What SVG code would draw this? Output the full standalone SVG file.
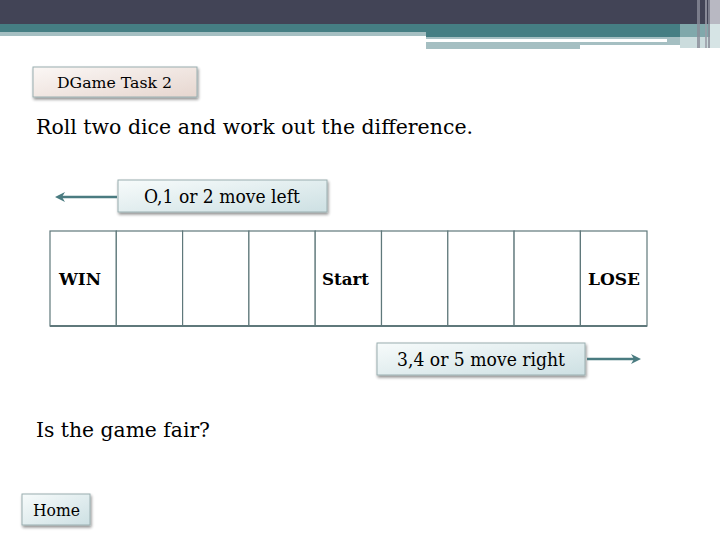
<svg xmlns="http://www.w3.org/2000/svg" width="720" height="540" viewBox="0 0 720 540">
<defs>
<linearGradient id="gPink" x1="0" y1="0" x2="1" y2="1">
<stop offset="0" stop-color="#fbf7f5"/><stop offset="1" stop-color="#e6d6cf"/>
</linearGradient>
<linearGradient id="gTeal" x1="0" y1="0" x2="1" y2="1">
<stop offset="0" stop-color="#f7fbfb"/><stop offset="1" stop-color="#cde0e3"/>
</linearGradient>
<filter id="sh" x="-10%" y="-20%" width="120%" height="150%">
<feGaussianBlur in="SourceAlpha" stdDeviation="1.5"/>
<feOffset dx="1" dy="2" result="b"/>
<feComponentTransfer><feFuncA type="linear" slope="0.45"/></feComponentTransfer>
<feMerge><feMergeNode/><feMergeNode in="SourceGraphic"/></feMerge>
</filter>
<marker id="ah" viewBox="0 0 10 10" refX="5" refY="5" markerWidth="4" markerHeight="4" orient="auto">
<path d="M0,0 L10,5 L0,10 L3,5 Z" fill="#4a7b80"/>
</marker>
<style>
.t{font-family:"DejaVu Serif","Liberation Serif",serif;fill:#000}
.b{font-family:"DejaVu Serif","Liberation Serif",serif;font-weight:bold;font-size:16px;fill:#000}
.box{stroke:#9aaeb0;stroke-width:1}
.cell{fill:#fff;stroke:#5f787b;stroke-width:1.2}
.con{stroke:#4a7b80;stroke-width:2.5;fill:none}
</style>
</defs>
<rect width="720" height="540" fill="#fff"/>
<g id="header">
<rect x="0" y="0" width="720" height="24" fill="#424456"/>
<rect x="0" y="24" width="720" height="8" fill="#457e83"/>
<rect x="426" y="32" width="294" height="5" fill="#457e83"/>
<rect x="0" y="32" width="426" height="4" fill="#a5bfc2"/>
<rect x="426" y="37" width="254" height="12" fill="#a5bfc2"/>
<rect x="426" y="39" width="241" height="3" fill="#fff"/>
<rect x="580" y="45" width="100" height="4" fill="#fff"/>
<rect x="680" y="24" width="40" height="24" fill="#a9c4c7" opacity="0.6"/>
<rect x="697" y="0" width="3" height="48" fill="#8a8c98" opacity="0.8"/>
<rect x="705" y="0" width="2" height="48" fill="#9a9ca8" opacity="0.8"/>
<rect x="708" y="0" width="2" height="48" fill="#8a8c98" opacity="0.8"/>
<rect x="710" y="0" width="10" height="24" fill="#b8b8c2"/>
<rect x="710" y="24" width="10" height="24" fill="#d6e4e5"/>
</g>
<g id="title">
<rect class="box" x="33" y="67" width="164" height="30" fill="url(#gPink)" filter="url(#sh)"/>
<text class="t" x="57" y="88" font-size="15.5" textLength="115" lengthAdjust="spacingAndGlyphs">DGame Task 2</text>
</g>
<g id="question1">
<text class="t" x="36" y="134" font-size="21" textLength="437" lengthAdjust="spacingAndGlyphs">Roll two dice and work out the difference.</text>
</g>
<g id="moveLeft">
<rect class="box" x="118" y="180" width="209" height="32" fill="url(#gTeal)" filter="url(#sh)"/>
<text class="t" x="144" y="203" font-size="18.5" textLength="156" lengthAdjust="spacingAndGlyphs">O,1 or 2 move left</text>
</g>
<g id="board">
<rect class="cell" x="50" y="231" width="66.3" height="95"/>
<rect class="cell" x="116.3" y="231" width="66.3" height="95"/>
<rect class="cell" x="182.6" y="231" width="66.3" height="95"/>
<rect class="cell" x="248.9" y="231" width="66.3" height="95"/>
<rect class="cell" x="315.2" y="231" width="66.3" height="95"/>
<rect class="cell" x="381.5" y="231" width="66.3" height="95"/>
<rect class="cell" x="447.8" y="231" width="66.3" height="95"/>
<rect class="cell" x="514.1" y="231" width="66.3" height="95"/>
<rect class="cell" x="580.4" y="231" width="66.6" height="95"/>
<line x1="50" y1="326" x2="647" y2="326" stroke="#5f787b" stroke-width="2.2"/>
<text class="b" x="59" y="285" textLength="42" lengthAdjust="spacingAndGlyphs">WIN</text>
<text class="b" x="322" y="285" textLength="47" lengthAdjust="spacingAndGlyphs">Start</text>
<text class="b" x="588" y="285" textLength="52" lengthAdjust="spacingAndGlyphs">LOSE</text>
</g>
<g id="moveRight">
<rect class="box" x="377" y="343" width="208" height="32" fill="url(#gTeal)" filter="url(#sh)"/>
<text class="t" x="397" y="366" font-size="18.5" textLength="168" lengthAdjust="spacingAndGlyphs">3,4 or 5 move right</text>
</g>
<g id="question2">
<text class="t" x="36" y="437" font-size="21" textLength="174" lengthAdjust="spacingAndGlyphs">Is the game fair?</text>
</g>
<g id="home">
<rect class="box" x="22" y="494" width="68" height="31" fill="url(#gTeal)" filter="url(#sh)"/>
<text class="t" x="33" y="516" font-size="16" textLength="47" lengthAdjust="spacingAndGlyphs">Home</text>
</g>
<g id="connectors">
<line class="con" x1="117" y1="197" x2="60" y2="197" marker-end="url(#ah)"/>
<line class="con" x1="587" y1="359" x2="636" y2="359" marker-end="url(#ah)"/>
</g>
</svg>
